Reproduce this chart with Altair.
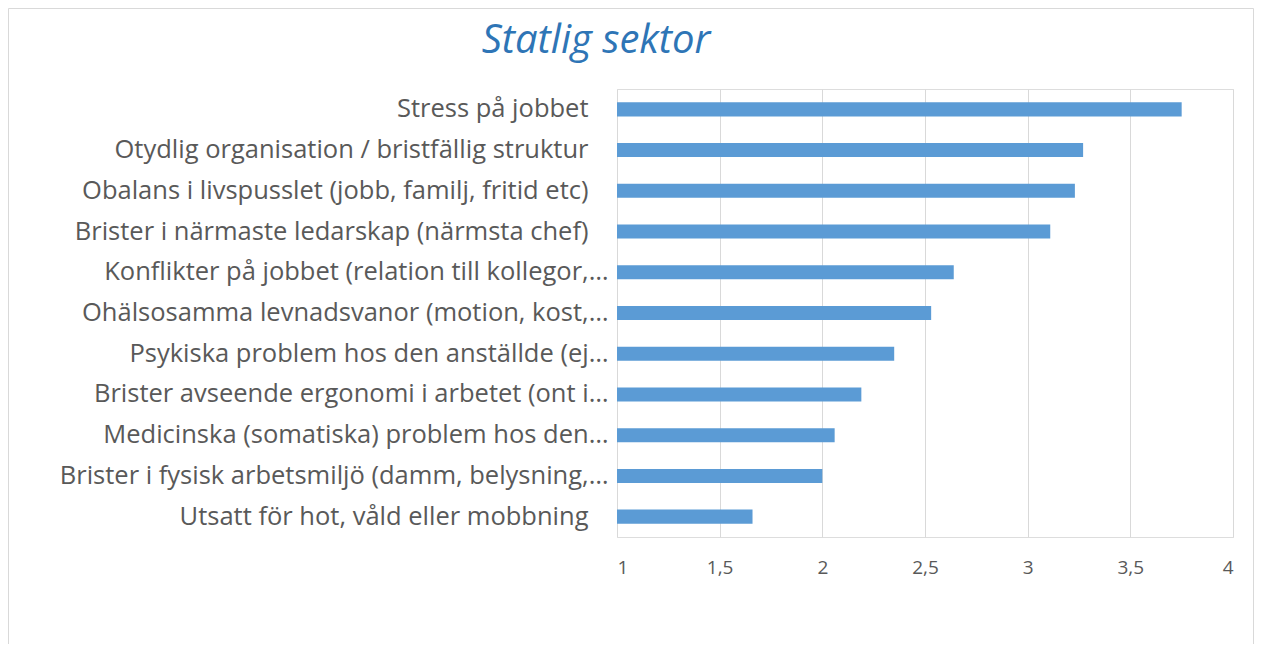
import altair as alt
import pandas as pd

categories = [
    "Stress på jobbet",
    "Otydlig organisation / bristfällig struktur",
    "Obalans i livspusslet (jobb, familj, fritid etc)",
    "Brister i närmaste ledarskap (närmsta chef)",
    "Konflikter på jobbet (relation till kollegor,…",
    "Ohälsosamma levnadsvanor (motion, kost,…",
    "Psykiska problem hos den anställde (ej…",
    "Brister avseende ergonomi i arbetet (ont i…",
    "Medicinska (somatiska) problem hos den…",
    "Brister i fysisk arbetsmiljö (damm, belysning,…",
    "Utsatt för hot, våld eller mobbning",
]
values = [3.75, 3.27, 3.23, 3.11, 2.64, 2.53, 2.35, 2.19, 2.06, 2.0, 1.66]
x_ticks = [1, 1.5, 2, 2.5, 3, 3.5, 4]

df = pd.DataFrame({"kategori": categories, "varde": values})

FONT = "Open Sans"
LABEL_COLOR = "#595959"
BORDER = "#D9D9D9"

bars = alt.Chart(df).mark_bar(color="#5B9BD5").encode(
    y=alt.Y(
        "kategori:N",
        sort=None,
        title=None,
        scale=alt.Scale(paddingInner=0.655, paddingOuter=0.3275),
        axis=alt.Axis(
            ticks=False,
            domain=False,
            grid=False,
            labelPadding={
                "condition": {"test": "indexof(datum.value, '…') >= 0", "value": 9},
                "value": 29,
            },
            labelFontSize=25.5,
            labelFont=FONT,
            labelColor=LABEL_COLOR,
            labelLimit=600,
        ),
    ),
    x=alt.X(
        "varde:Q",
        title=None,
        scale=alt.Scale(domain=[1, 4], zero=False, nice=False),
        axis=alt.Axis(
            values=x_ticks,
            ticks=False,
            domain=False,
            grid=True,
            gridColor=BORDER,
            gridWidth=1,
            labelPadding=21,
            labelFontSize=19,
            labelFont=FONT,
            labelColor=LABEL_COLOR,
            labelExpr="replace(toString(datum.value), '.', ',')",
        ),
    ),
    x2=alt.datum(1),
)

one = pd.DataFrame({"a": [0]})
rule_style = dict(color=BORDER, strokeWidth=1, clip=False)
left_edge = alt.Chart(one).mark_rule(**rule_style).encode(
    x=alt.value(-608.5), y=alt.value(-80.5), y2=alt.value(700)
)
right_edge = alt.Chart(one).mark_rule(**rule_style).encode(
    x=alt.value(636.5), y=alt.value(-80.5), y2=alt.value(700)
)
top_edge = alt.Chart(one).mark_rule(**rule_style).encode(
    x=alt.value(-608.5), x2=alt.value(636.5), y=alt.value(-80.5)
)

chart = alt.layer(left_edge, right_edge, top_edge, bars).properties(
    width=616,
    height=448,
    padding={"left": 609, "top": 81, "right": 21, "bottom": 107},
    autosize=alt.AutoSizeParams(type="none"),
    title=alt.TitleParams(
        "Statlig sektor",
        font=FONT,
        fontSize=40,
        fontStyle="italic",
        fontWeight="normal",
        color="#2E75B6",
        anchor="middle",
        frame="group",
        dx=-329,
        baseline="alphabetic",
        offset=-85,
    ),
).configure_view(stroke=None).configure(background="white")

chart.save("out.html", embed_options={"renderer": "svg", "actions": False})
